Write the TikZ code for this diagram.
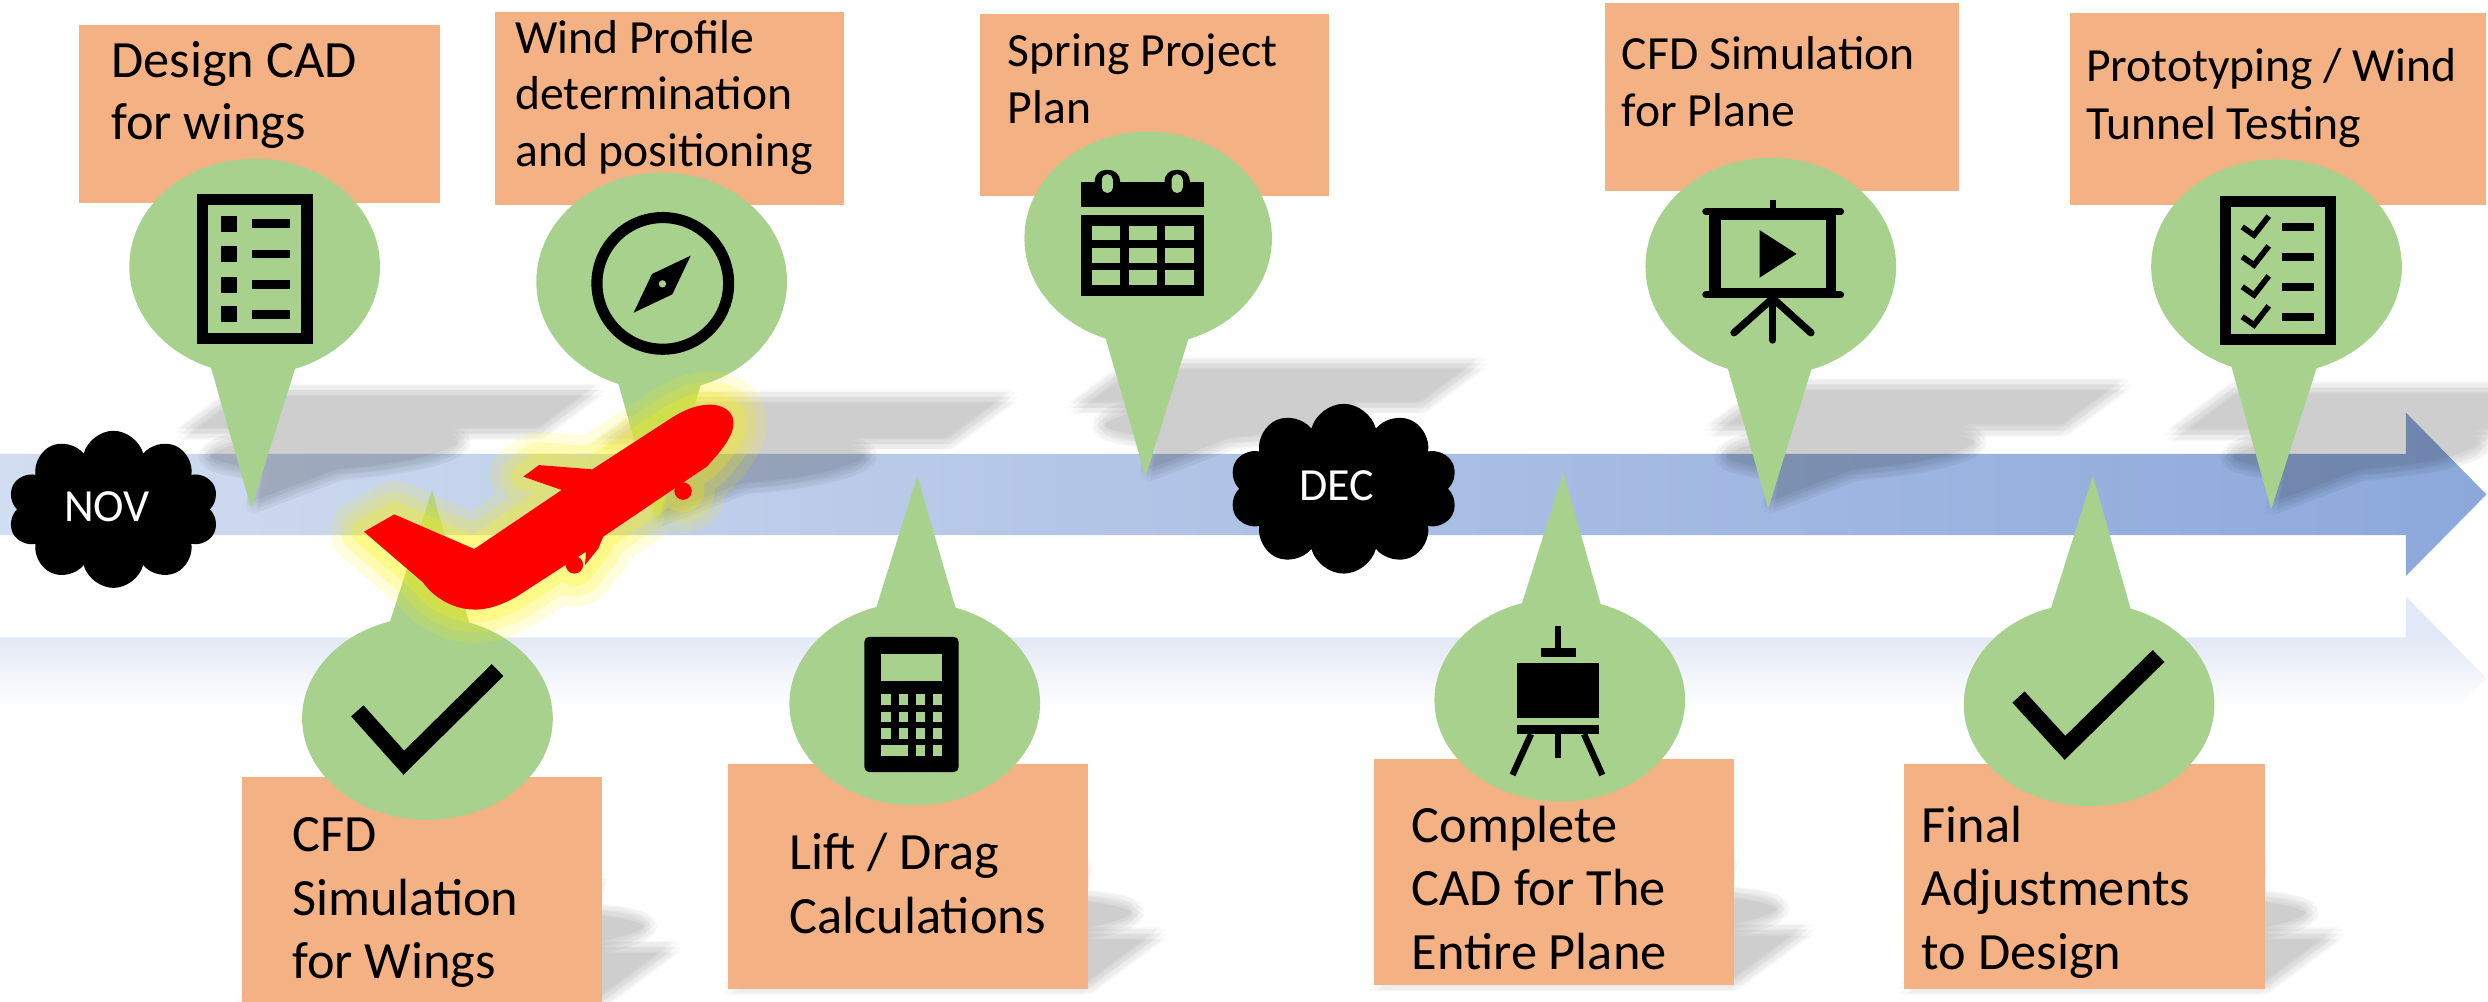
\documentclass[tikz,border=0pt]{standalone}
\usepackage{fontspec}
\setmainfont{Carlito}
\usetikzlibrary{shapes.symbols}

\definecolor{boxorange}{HTML}{F4B183}
\definecolor{pingreen}{HTML}{A9D18E}
\definecolor{bandleft}{HTML}{D2DDF1}
\definecolor{bandright}{HTML}{8CA8DB}
\definecolor{reflblue}{HTML}{E2E8F5}
\definecolor{glowyellow}{HTML}{FFF200}

% geometry helpers: a box, and a pin (ellipse with a pointed tail);
% all outlines run clockwise so that overlapping parts merge when filled
\newcommand\boxpoly[4]{(#1,#2) -- (#3,#2) -- (#3,#4) -- (#1,#4) -- cycle}
\newcommand\pintop[6]{(#5,#6) -- ({#1-0.3*abs(#2-#6)},#2) -- ({#1+0.3*abs(#2-#6)},#2) -- cycle (#1,#2) ellipse [x radius=#3, y radius=#4]}
\newcommand\pinbot[6]{(#5,#6) -- ({#1+0.3*abs(#2-#6)},#2) -- ({#1-0.3*abs(#2-#6)},#2) -- cycle (#1,#2) ellipse [x radius=#3, y radius=#4]}

% the nine milestones: box + pin
\newcommand\pinA{\pintop{160.5}{168}{79}{68}{158.3}{320.4}}
\newcommand\pinB{\pintop{417}{177.5}{79}{68.7}{414.2}{328.8}}
\newcommand\pinC{\pintop{723.6}{150.2}{78}{67.2}{722}{300.4}}
\newcommand\pinD{\pintop{1116}{168}{79}{68.6}{1114.4}{320.4}}
\newcommand\pinE{\pintop{1434.7}{168}{79}{67.6}{1431.3}{321}}
\newcommand\pinF{\pinbot{269.4}{452.7}{79}{64}{272.3}{309}}
\newcommand\pinG{\pinbot{576.5}{443.5}{79}{64}{578.1}{299.8}}
\newcommand\pinH{\pinbot{983}{441.2}{79}{64}{985.2}{297.8}}
\newcommand\pinI{\pinbot{1316.6}{444}{79}{64}{1319}{299.8}}
\newcommand\boxA{\boxpoly{50}{16}{277}{128}}
\newcommand\boxB{\boxpoly{312}{7.4}{532}{129}}
\newcommand\boxC{\boxpoly{617.5}{8.8}{837.6}{123.3}}
\newcommand\boxD{\boxpoly{1011.2}{1.7}{1234.6}{120.2}}
\newcommand\boxE{\boxpoly{1304.6}{8}{1567}{129.2}}
\newcommand\boxF{\boxpoly{152.5}{489.6}{379.3}{631.6}}
\newcommand\boxG{\boxpoly{458.7}{481.2}{685.6}{623.1}}
\newcommand\boxH{\boxpoly{865.8}{478.4}{1092.8}{620.8}}
\newcommand\boxI{\boxpoly{1199.7}{481.2}{1427.2}{623.1}}

% soft perspective shadow, anchored at the bottom of the object;
% the soft edge comes from nine faint, slightly shifted copies
\newcommand\castshadow[2]{%
  \foreach \dx/\dy in {0/0,-4/0,4/0,0/-4,0/4,-3/-3,3/3,-3/3,3/-3} {
    \begin{scope}[shift={(\dx,\dy)}]
      \begin{scope}[shift={(0,#1)}, cm={1,0,0.33,0.245,(0,0)}, shift={(0,-#1)}]
        \fill[black, fill opacity=0.025] #2;
      \end{scope}
    \end{scope}}}

\newcommand\twolines[2]{\vtop{\hbox{#1}\hbox{#2}}}
\newcommand\threelines[3]{\vtop{\hbox{#1}\hbox{#2}\hbox{#3}}}

% airplane outline
\newcommand\planepath{(229.4,335.1) -- (248.5,324.2) -- (298.9,346) -- (354,308.8) -- (329.8,300.4) -- (339.7,293.1) -- (373.3,295.8) -- (421.2,264.7) .. controls (432,257.5) and (440,255) .. (448,255) .. controls (458,255.5) and (463,261) .. (462.2,268) .. controls (461.5,276) and (453,286) .. (445.4,294.1) -- (380.2,338.2) -- (377.1,345.6) -- (368.7,356.1) -- (369.3,347.7) -- (325.6,376) .. controls (315,382) and (305,385) .. (296,384) .. controls (284,383) and (273,376) .. (266.5,367) -- cycle (430.5,309.5) circle [radius=5.5] (362,356) circle [radius=5.5]}

\tikzset{
  boxfill/.style={fill=boxorange},
  pinfill/.style={fill=pingreen},
  bigtext/.style={anchor=base west, inner sep=0pt, font=\fontsize{33}{39.5}\selectfont},
  toptext/.style={anchor=base west, inner sep=0pt, font=\fontsize{30}{35.7}\selectfont},
  bottext/.style={anchor=base west, inner sep=0pt, font=\fontsize{33}{40}\selectfont},
  monthcloud/.style={cloud, cloud puffs=10, aspect=1.45, fill=black, inner sep=0pt},
  monthtext/.style={text=white, inner sep=0pt, font=\fontsize{29}{35}\selectfont},
  glow/.style={draw=glowyellow, line join=round},
}

\begin{document}
\begin{tikzpicture}[x=1pt, y=-1pt]
\path[use as bounding box] (0,0) rectangle (1568,631);
\clip (0,0) rectangle (1568,631);

% reflection of the timeline arrow
\begin{scope}
  \clip (0,401.8) -- (1516.3,401.8) -- (1516.3,376) -- (1567,427.4) -- (1516.3,478.9) -- (1516.3,452.9) -- (0,452.9) -- cycle;
  \fill[reflblue] (0,370) rectangle (1568,402);
  \shade[top color=reflblue, bottom color=white] (0,402) rectangle (1568,446);
\end{scope}

% timeline arrow
\shade[left color=bandleft, right color=bandright] (0,286.1) -- (1516.3,286.1) -- (1516.3,260.1) -- (1567,311.6) -- (1516.3,363) -- (1516.3,337.2) -- (0,337.2) -- cycle;

% shadows
\castshadow{320.4}{\boxA\pinA}
\castshadow{328.8}{\boxB\pinB}
\castshadow{300.4}{\boxC\pinC}
\castshadow{320.4}{\boxD\pinD}
\castshadow{321}{\boxE\pinE}
\castshadow{631.6}{\boxF\pinF}
\castshadow{623.1}{\boxG\pinG}
\castshadow{620.8}{\boxH\pinH}
\castshadow{623.1}{\boxI\pinI}

% text boxes
\fill[boxfill] \boxA;
\fill[boxfill] \boxB;
\fill[boxfill] \boxC;
\fill[boxfill] \boxD;
\fill[boxfill] \boxE;
\fill[boxfill] \boxF;
\fill[boxfill] \boxG;
\fill[boxfill] \boxH;
\fill[boxfill] \boxI;

% pins
\fill[pinfill] \pinA;
\fill[pinfill] \pinB;
\fill[pinfill] \pinC;
\fill[pinfill] \pinD;
\fill[pinfill] \pinE;
\fill[pinfill] \pinF;
\fill[pinfill] \pinG;
\fill[pinfill] \pinH;
\fill[pinfill] \pinI;

% icon: bulleted list
\fill (124,122) rectangle (197,217);
\fill[pingreen] (131,129) rectangle (190,210);
\foreach \r in {141,160,179.4,198.1} {
  \fill (139.4,\r-5) rectangle (149.4,\r+5);
  \fill (158.8,\r-2.7) rectangle (182.8,\r+2.7);
}

% icon: compass
\draw[line width=7pt] (417.7,178.6) circle [radius=41.5];
\fill (435.3,161.1) -- (423.7,185.5) -- (399.3,197.1) -- (410.9,172.7) -- cycle;
\fill[pingreen] (417.5,178.9) circle [radius=2.3];

% icon: calendar
\fill (681.2,114.5) rectangle (758.9,130.2);
\fill[rounded corners=7pt] (689.9,107.1) rectangle (705.9,126);
\fill[rounded corners=7pt] (733.9,107.1) rectangle (749.9,126);
\fill[pingreen, rounded corners=3.4pt] (694.4,109.8) rectangle (701.4,121.6);
\fill[pingreen, rounded corners=3.4pt] (738.4,109.8) rectangle (745.4,121.6);
\fill (681.2,135.5) rectangle (758.9,186.6);
\foreach \xa/\xb in {688.2/705.9,711.5/729.2,734.2/752.5}
  \foreach \ya/\yb in {142.4/151.3,156.5/165.5,170.2/179.6}
    \fill[pingreen] (\xa,\ya) rectangle (\xb,\yb);

% icon: presentation screen
\draw[line width=3.5pt] (1117.2,126) -- (1117.2,133);
\fill (1077,134) rectangle (1157.3,184.5);
\fill[pingreen] (1084.3,138.6) rectangle (1150.6,181.7);
\draw[line width=4.4pt, line cap=round] (1075,133.4) -- (1160,133.4);
\draw[line width=4.4pt, line cap=round] (1075,185.9) -- (1160,185.9);
\fill (1108.9,145) -- (1132.2,160) -- (1108.9,175) -- cycle;
\draw[line width=4.6pt, line cap=round] (1117.2,187) -- (1117.2,214.3);
\draw[line width=4.6pt, line cap=round] (1117.2,188) -- (1092.8,209.7);
\draw[line width=4.6pt, line cap=round] (1117.2,188) -- (1141.3,209.7);

% icon: checklist
\fill (1399.2,123.3) rectangle (1472.2,217.4);
\fill[pingreen] (1405.8,130.3) rectangle (1465.2,210.7);
\foreach \r in {143,161.8,180.7,199.6} {
  \draw[line width=3.6pt] (1413.1,\r) -- (1420.5,\r+5.2) -- (1429.8,\r-6.8);
  \fill (1438.2,\r-2.4) rectangle (1458.2,\r+2.4);
}

% icon: check marks
\draw[line width=10.5pt] (225.2,448) -- (254.5,480.7) -- (313.6,422.3);
\draw[line width=10.5pt] (1272.1,439.3) -- (1301.4,471.3) -- (1360.4,413.4);

% icon: calculator
\fill[rounded corners=3pt] (544.8,401.3) rectangle (604.1,486.6);
\fill[pingreen] (555.4,412.3) rectangle (593.8,428.9);
\foreach \ya/\yb in {437.5/444,448.5/455,459/465.5}
  \foreach \xa/\xb in {555.4/561.4,566.5/572.4,577.1/583.1,587.8/593.8}
    \fill[pingreen] (\xa,\ya) rectangle (\xb,\yb);
\fill[pingreen] (555.4,469.7) rectangle (572.4,476.3);
\fill[pingreen] (577.1,469.7) rectangle (583.1,476.3);
\fill[pingreen] (587.8,469.7) rectangle (593.8,476.3);

% icon: easel
\fill (980,394.8) rectangle (984,408.3);
\fill (971.2,408.3) rectangle (993,414.2);
\fill (956.3,417.7) rectangle (1007.6,452.2);
\fill (956.3,456.7) rectangle (1007.6,462.7);
\draw[line width=4pt] (964.9,462.7) -- (953.2,488.4);
\draw[line width=4pt] (982,462.7) -- (982,477.7);
\draw[line width=4pt] (998.3,462.7) -- (1009.8,488.4);

% labels
\node[bigtext] (txtA) at (70,48.7) {\twolines{Design CAD}{for wings}};
\node[toptext] (txtB) at (324.5,33.6) {\threelines{Wind Profile}{determination}{and positioning}};
\node[toptext] (txtC) at (635,42) {\twolines{Spring Project}{Plan}};
\node[toptext] (txtD) at (1022,44) {\twolines{CFD Simulation}{for Plane}};
\node[toptext, font=\fontsize{30}{36.3}\selectfont] (txtE) at (1314.5,51.5) {\twolines{Prototyping / Wind}{Tunnel Testing}};
\node[bottext] (txtF) at (184,536.7) {\threelines{CFD}{Simulation}{for Wings}};
\node[bottext] (txtG) at (497.5,548.2) {\twolines{Lift / Drag}{Calculations}};
\node[bottext] (txtH) at (889.5,530.9) {\threelines{Complete}{CAD for The}{Entire Plane}};
\node[bottext] (txtI) at (1211,530.9) {\threelines{Final}{Adjustments}{to Design}};

% month markers
\node[monthcloud, minimum width=133pt, minimum height=99pt] (novcloud) at (71.5,321) {};
\node[monthtext] (novtext) at (67.4,319.6) {NOV};
\node[monthcloud, minimum width=144pt, minimum height=107pt] (deccloud) at (846.8,308) {};
\node[monthtext] (dectext) at (842.5,306.3) {DEC};

% airplane with glow
\path[glow, line width=42pt, opacity=0.14] \planepath;
\path[glow, line width=29pt, opacity=0.18] \planepath;
\path[glow, line width=16pt, opacity=0.24] \planepath;
\fill[red] \planepath;
\end{tikzpicture}
\end{document}
